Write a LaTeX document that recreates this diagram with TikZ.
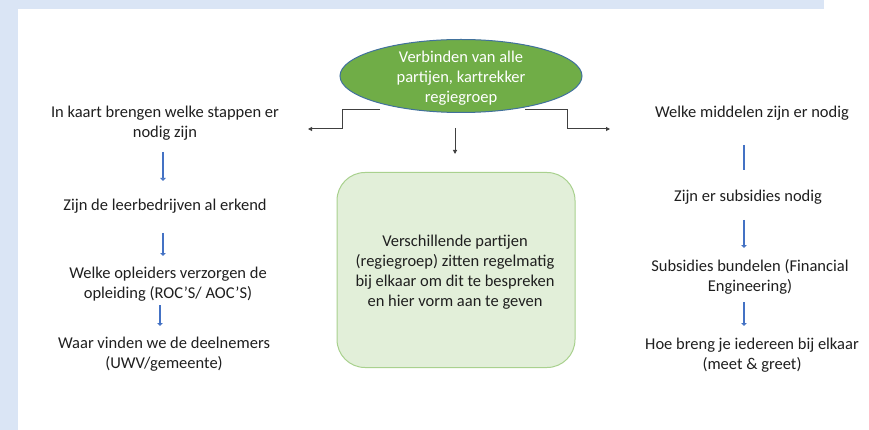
\documentclass[tikz,border=0pt]{standalone}
\usepackage{fontspec}
\setmainfont{Carlito}
\usetikzlibrary{shapes.geometric,arrows.meta}
\definecolor{bandblue}{HTML}{DAE5F5}
\definecolor{ellgreen}{HTML}{70AD47}
\definecolor{ellline}{HTML}{41719C}
\definecolor{boxfill}{HTML}{E2EFD9}
\definecolor{boxline}{HTML}{A9D18E}
\definecolor{arrblue}{HTML}{4472C4}
\definecolor{txt}{HTML}{1F1F1F}
\definecolor{conn}{HTML}{404040}
\begin{document}
\begin{tikzpicture}[x=1pt,y=-1pt,
  lbl/.style={align=center,text=txt,font=\fontsize{16.5}{20}\selectfont,inner sep=0pt},
  bluearr/.style={draw=arrblue,line width=2.6pt,-{Triangle[length=3pt,width=5.5pt]}},
  bluebar/.style={draw=arrblue,line width=2.6pt},
  grayarr/.style={draw=conn,line width=1pt,-{Triangle[length=4pt,width=4pt]}}]
\useasboundingbox (0,0) rectangle (869,430);
\fill[white] (0,0) rectangle (869,430);
\fill[bandblue] (0,0) rectangle (824,9);
\fill[bandblue] (0,0) rectangle (18,430);

% ellipse
\node[ellipse,fill=ellgreen,draw=ellline,line width=1pt,minimum width=242,minimum height=73,inner sep=0pt] (ell) at (461,76) {};
\node[lbl,text=white] (elltxt) at (461,78) {Verbinden van alle\\partijen, kartrekker\\regiegroep};

% center box
\node[draw=boxline,fill=boxfill,line width=1pt,rounded corners=28,minimum width=238,minimum height=195,inner sep=0pt] (box) at (456,270) {};
\node[lbl] (boxtxt) at (455,272) {Verschillende partijen\\(regiegroep) zitten regelmatig\\bij elkaar om dit te bespreken\\en hier vorm aan te geven};

% left column
\node[lbl] (l1) at (165,123) {In kaart brengen welke stappen er\\nodig zijn};
\node[lbl] (l2) at (165,206) {Zijn de leerbedrijven al erkend};
\node[lbl] (l3) at (168,284) {Welke opleiders verzorgen de\\opleiding (ROC’S/ AOC’S)};
\node[lbl] (l4) at (164,354) {Waar vinden we de deelnemers\\(UWV/gemeente)};

% right column
\node[lbl] (r1) at (752,113) {Welke middelen zijn er nodig};
\node[lbl] (r2) at (748,197) {Zijn er subsidies nodig};
\node[lbl] (r3) at (750,277) {Subsidies bundelen (Financial\\Engineering)};
\node[lbl] (r4) at (752,355) {Hoe breng je iedereen bij elkaar\\(meet \& greet)};

% blue arrows
\draw[bluearr] (163,152) -- (163,181);
\draw[bluearr] (163,233) -- (163,256);
\draw[bluearr] (160,305) -- (160,326);
\draw[bluebar] (744,145) -- (744,170);
\draw[bluearr] (744,220) -- (744,248);
\draw[bluearr] (744,302) -- (744,326);

% gray connectors
\coordinate (cl1) at (380,110);
\coordinate (cl2) at (308,129);
\coordinate (cr1) at (525,110);
\coordinate (cr2) at (610,129);
\coordinate (cm1) at (455,128);
\coordinate (cm2) at (455,154);
\draw[grayarr] (cl1) -- (342,110) -- (342,129) -- (cl2);
\draw[grayarr] (cr1) -- (567,110) -- (567,129) -- (cr2);
\draw[grayarr] (cm1) -- (cm2);
\end{tikzpicture}
\end{document}
